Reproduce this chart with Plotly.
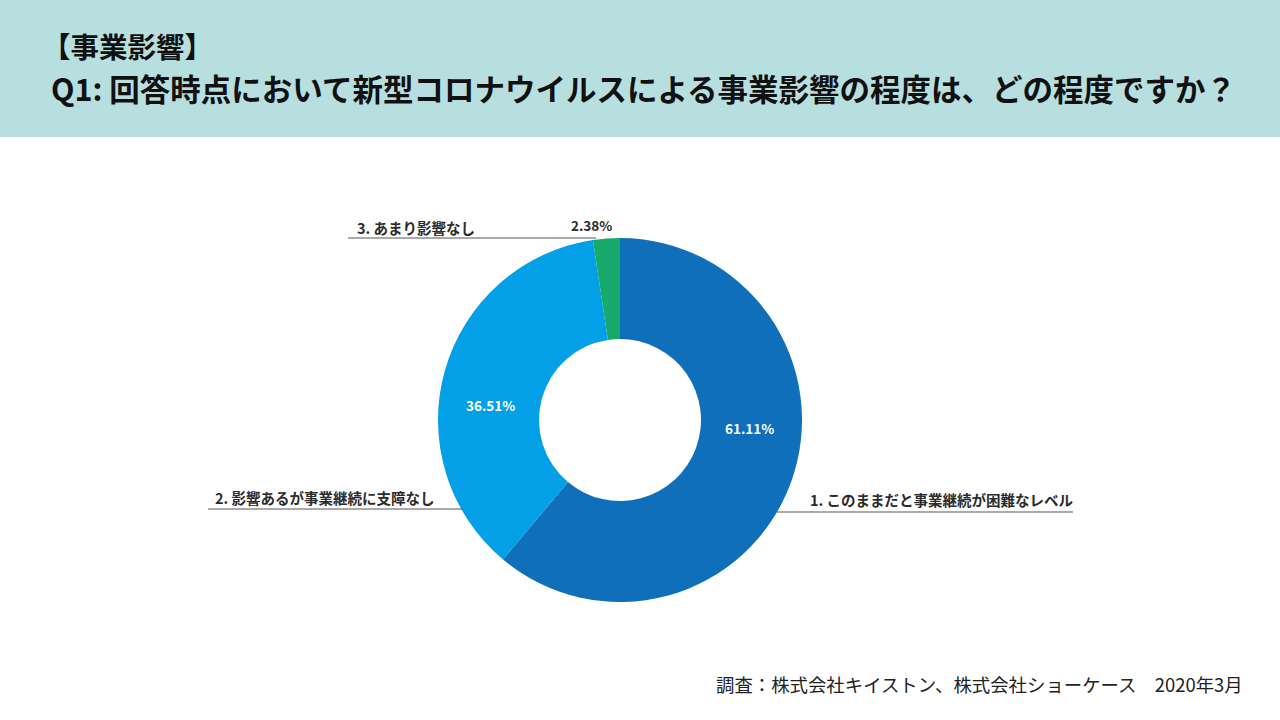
import plotly.graph_objects as go

categories = ["1. このままだと事業継続が困難なレベル", "2. 影響あるが事業継続に支障なし", "3. あまり影響なし"]
values = [61.11, 36.51, 2.38]
colors = ["#0f6fba", "#03a0e8", "#17aa6a"]
title_line1 = "【事業影響】"
title_line2 = "Q1: 回答時点において新型コロナウイルスによる事業影響の程度は、どの程度ですか？"
source_text = "調査：株式会社キイストン、株式会社ショーケース　2020年3月"

W, H = 1280, 720
FONT = "Noto Sans CJK JP"

def px(x):
    return x / W

def py(y):
    return 1 - y / H

cx, cy, r = 620, 420, 182

fig = go.Figure()
fig.add_trace(go.Pie(
    values=values,
    labels=categories,
    marker=dict(colors=colors, line=dict(width=0)),
    hole=0.445,
    sort=False,
    direction="clockwise",
    rotation=0,
    textinfo="none",
    showlegend=False,
    domain=dict(x=[px(cx - r), px(cx + r)], y=[py(cy + r), py(cy - r)]),
))

shapes = [
    dict(type="rect", xref="paper", yref="paper", x0=0, x1=1, y0=py(137), y1=1,
         fillcolor="#b8dfdf", line=dict(width=0), layer="below"),
    dict(type="line", xref="paper", yref="paper", x0=px(777), x1=px(1073), y0=py(512), y1=py(512),
         line=dict(color="#555555", width=1)),
    dict(type="line", xref="paper", yref="paper", x0=px(208), x1=px(463), y0=py(509), y1=py(509),
         line=dict(color="#555555", width=1)),
    dict(type="line", xref="paper", yref="paper", x0=px(348), x1=px(596), y0=py(238), y1=py(238),
         line=dict(color="#555555", width=1)),
]

label_font = dict(family=FONT, size=14.5, color="#2b2b2b", weight=600)
pct_font_white = dict(family=FONT, size=13.5, color="#ffffff", weight=600)

annotations = [
    dict(text=title_line1, x=px(40), y=py(45), xanchor="left", yanchor="middle",
         font=dict(family=FONT, size=28.5, color="#111111", weight="bold")),
    dict(text=title_line2, x=px(49), y=py(88), xanchor="left", yanchor="middle",
         font=dict(family=FONT, size=30.5, color="#111111", weight="bold")),
    # category labels
    dict(text=categories[0], x=px(808), y=py(499), xanchor="left", yanchor="middle", font=label_font),
    dict(text=categories[1], x=px(213), y=py(497), xanchor="left", yanchor="middle", font=label_font),
    dict(text=categories[2], x=px(355), y=py(227), xanchor="left", yanchor="middle", font=label_font),
    # percentages
    dict(text=f"{values[0]:.2f}%", x=px(749), y=py(428), xanchor="center", yanchor="middle", font=pct_font_white),
    dict(text=f"{values[1]:.2f}%", x=px(490), y=py(405), xanchor="center", yanchor="middle", font=pct_font_white),
    dict(text=f"{values[2]:.2f}%", x=px(591), y=py(225), xanchor="center", yanchor="middle",
         font=dict(family=FONT, size=13.5, color="#2b2b2b", weight=600)),
    dict(text=source_text, x=px(1245), y=py(684), xanchor="right", yanchor="middle",
         font=dict(family=FONT, size=18.4, color="#222222")),
]
for a in annotations:
    a.update(xref="paper", yref="paper", showarrow=False)

fig.update_layout(
    width=W, height=H,
    margin=dict(l=0, r=0, t=0, b=0),
    paper_bgcolor="#ffffff",
    plot_bgcolor="#ffffff",
    shapes=shapes,
    annotations=annotations,
)

fig.write_html("out.html")
